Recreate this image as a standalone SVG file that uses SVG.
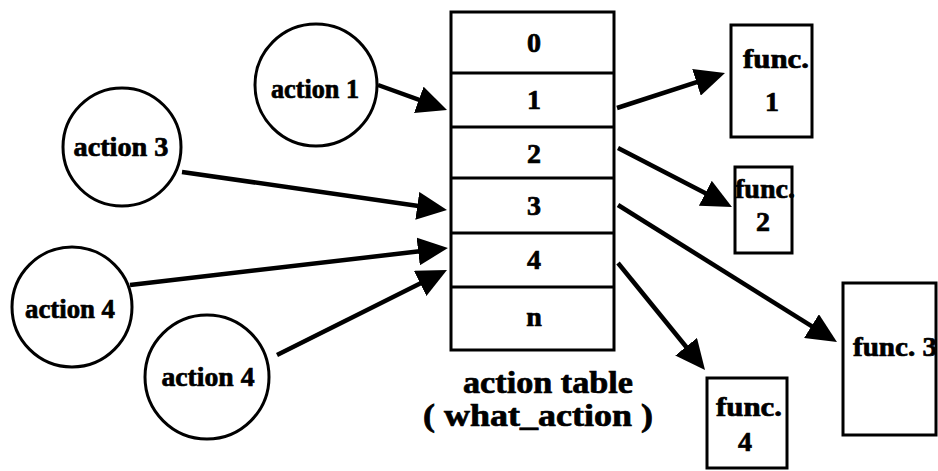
<svg xmlns="http://www.w3.org/2000/svg" width="938" height="471" viewBox="0 0 938 471">
<style>
.node{fill:#fff;stroke:#000;stroke-width:3}
.t{font-family:"Liberation Serif","Times New Roman",serif;font-weight:bold;fill:#000;stroke:#000;stroke-width:0.7;text-anchor:middle}
.lab{font-size:27px}
.dig{font-size:28px}
.fn{font-size:27px}
.title{font-size:31px}
.conn{stroke:#000;stroke-width:4.5;fill:none;marker-end:url(#ah)}
</style>
<defs>
<marker id="ah" viewBox="0 0 30 28" refX="10" refY="14" markerWidth="30" markerHeight="28" markerUnits="userSpaceOnUse" orient="auto">
<path d="M0,0 L30,14 L0,28 z" fill="#000"/>
</marker>
</defs>
<rect width="938" height="471" fill="#fff"/>

<g id="connectors">
<line class="conn" x1="378" y1="85" x2="428.2" y2="103.2"/>
<line class="conn" x1="182" y1="172" x2="427.2" y2="207.2"/>
<line class="conn" x1="130" y1="285" x2="428.1" y2="250.3"/>
<line class="conn" x1="277" y1="355" x2="429.1" y2="278.9"/>
<line class="conn" x1="617" y1="108" x2="706" y2="79.2"/>
<line class="conn" x1="618" y1="148" x2="714.2" y2="197.8"/>
<line class="conn" x1="618" y1="205" x2="820" y2="331.4"/>
<line class="conn" x1="618" y1="263" x2="692.4" y2="354.5"/>
</g>

<g id="action1">
<circle class="node" cx="316" cy="85" r="61"/>
<text class="t lab" x="315" y="98" textLength="88" lengthAdjust="spacingAndGlyphs">action 1</text>
</g>
<g id="action3">
<circle class="node" cx="122" cy="147" r="59"/>
<text class="t lab" x="121" y="156" textLength="95" lengthAdjust="spacingAndGlyphs">action 3</text>
</g>
<g id="action4a">
<circle class="node" cx="72" cy="307" r="60"/>
<text class="t lab" x="70" y="318" textLength="90" lengthAdjust="spacingAndGlyphs">action 4</text>
</g>
<g id="action4b">
<circle class="node" cx="207" cy="377" r="62"/>
<text class="t lab" x="208" y="386" textLength="93" lengthAdjust="spacingAndGlyphs">action 4</text>
</g>

<g id="action_table">
<rect class="node" x="451" y="12" width="163" height="338"/>
<line x1="451" y1="73" x2="614" y2="73" stroke="#000" stroke-width="3"/>
<line x1="451" y1="127" x2="614" y2="127" stroke="#000" stroke-width="3"/>
<line x1="451" y1="178" x2="614" y2="178" stroke="#000" stroke-width="3"/>
<line x1="451" y1="233" x2="614" y2="233" stroke="#000" stroke-width="3"/>
<line x1="451" y1="287" x2="614" y2="287" stroke="#000" stroke-width="3"/>
<text class="t dig" x="534" y="52">0</text>
<text class="t dig" x="534" y="109">1</text>
<text class="t dig" x="534" y="163">2</text>
<text class="t dig" x="534" y="215">3</text>
<text class="t dig" x="534" y="269">4</text>
<text class="t dig" x="534" y="326">n</text>
<text class="t title" x="548" y="393" textLength="170" lengthAdjust="spacingAndGlyphs">action table</text>
<text class="t title" x="538" y="426" textLength="230" lengthAdjust="spacingAndGlyphs">( what_action )</text>
</g>

<g id="func1">
<rect class="node" x="731" y="25" width="81" height="112"/>
<text class="t fn" x="776" y="68" textLength="66" lengthAdjust="spacingAndGlyphs">func.</text>
<text class="t dig" x="772" y="111">1</text>
</g>
<g id="func2">
<rect class="node" x="735" y="167" width="57" height="86"/>
<text class="t fn" x="765" y="198" textLength="60" lengthAdjust="spacingAndGlyphs">func.</text>
<text class="t dig" x="763" y="231">2</text>
</g>
<g id="func3">
<rect class="node" x="843" y="283" width="93" height="152"/>
<text class="t fn" x="895" y="356" textLength="84" lengthAdjust="spacingAndGlyphs">func. 3</text>
</g>
<g id="func4">
<rect class="node" x="707" y="378" width="80" height="90"/>
<text class="t fn" x="749" y="416" textLength="66" lengthAdjust="spacingAndGlyphs">func.</text>
<text class="t dig" x="745" y="451">4</text>
</g>
</svg>
